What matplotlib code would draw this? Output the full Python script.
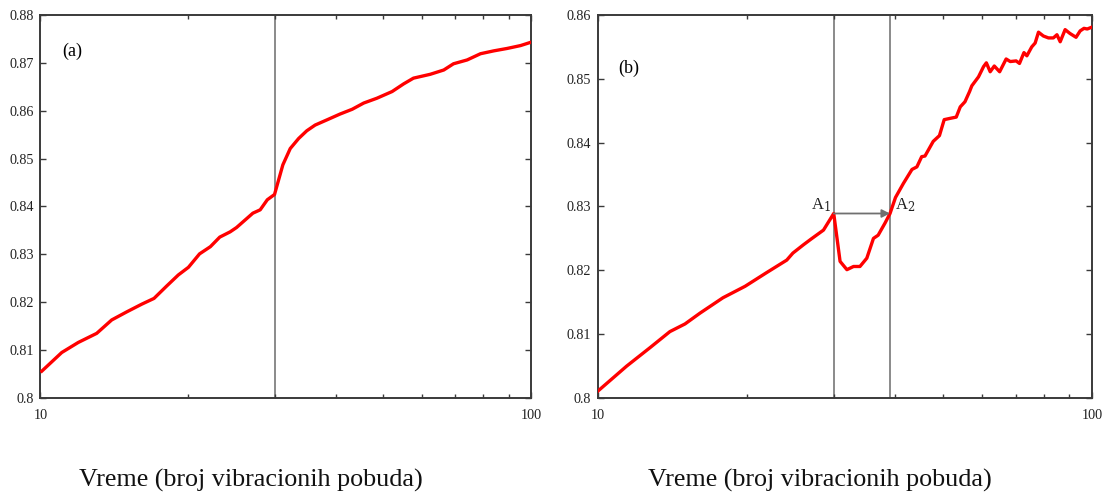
import numpy as np
import matplotlib
matplotlib.use("Agg")
import matplotlib.pyplot as plt
from matplotlib.ticker import LogLocator, FixedLocator, NullFormatter, FuncFormatter

plt.rcParams['font.family'] = ['Liberation Serif', 'DejaVu Serif']

# panel (a): single excitation sequence
time_a = [10.06, 11.05, 11.94, 13.02, 13.97, 15.0, 16.09, 17.04, 18.09, 19.1,
          20.03, 21.1, 22.2, 23.2, 24.36, 25.1, 26.35, 27.1, 28.05, 29.0, 30.0,
          31.2, 32.3, 33.6, 34.9, 36.3, 38.4, 40.8, 43.2, 45.6, 48.5, 52.1,
          55.0, 57.6, 62.3, 66.4, 69.5, 74.1, 78.9, 84.0, 89.4, 95.2, 100.0]
value_a = [0.8056, 0.8095, 0.8116, 0.8135, 0.8163, 0.8180, 0.8196, 0.8208,
           0.8234, 0.8257, 0.8273, 0.8301, 0.8316, 0.8336, 0.8347, 0.8356,
           0.8375, 0.8386, 0.8393, 0.8414, 0.8425, 0.8487, 0.8521, 0.8542,
           0.8558, 0.8570, 0.8581, 0.8593, 0.8603, 0.8616, 0.8626, 0.8640,
           0.8656, 0.8668, 0.8676, 0.8685, 0.8698, 0.8706, 0.8719, 0.8725,
           0.8730, 0.8736, 0.8743]

# panel (b): with the drop between A1 and A2
time_b = [10.0, 11.43, 12.75, 13.98, 15.0, 16.09, 17.9, 19.85, 21.9, 24.1,
          24.8, 26.05, 27.0, 28.6, 30.0, 30.9, 31.9, 32.9, 33.9, 35.0, 36.1,
          36.9, 38.1, 39.0, 40.0, 41.5, 43.2, 44.2, 45.2, 45.9, 47.7, 49.1,
          50.2, 51.6, 53.1, 54.1, 55.3, 56.5, 57.1, 58.9, 60.3, 61.1, 62.2,
          63.4, 65.0, 67.0, 68.3, 70.2, 71.3, 72.8, 73.8, 75.5, 76.7, 77.9,
          79.7, 81.6, 83.5, 84.9, 86.2, 88.2, 90.2, 92.8, 94.6, 96.3, 97.8, 100.0]
value_b = [0.8011, 0.8050, 0.8079, 0.8104, 0.8116, 0.8133, 0.8157, 0.8175,
           0.8196, 0.8216, 0.8227, 0.8240, 0.8249, 0.8263, 0.8289, 0.8214,
           0.8201, 0.8206, 0.8206, 0.8219, 0.8250, 0.8255, 0.8274, 0.8289,
           0.8314, 0.8336, 0.8358, 0.8362, 0.8378, 0.8379, 0.8402, 0.8411,
           0.8436, 0.8438, 0.8440, 0.8456, 0.8464, 0.8480, 0.8489, 0.8503,
           0.8519, 0.8525, 0.8511, 0.8520, 0.8511, 0.8531, 0.8527, 0.8528,
           0.8524, 0.8541, 0.8536, 0.8550, 0.8556, 0.8573, 0.8567, 0.8564,
           0.8564, 0.8569, 0.8558, 0.8577, 0.8571, 0.8565, 0.8575, 0.8579,
           0.8578, 0.8581]

lines_a = [30]
lines_b = [30, 39]
ylim_a = (0.80, 0.88)
ylim_b = (0.80, 0.86)
xlabel = "Vreme (broj vibracionih pobuda)"

spine_col = "#3a3a3a"
vline_col = "#8a8a8a"


def style_axis(ax, ylim):
    ax.set_xscale("log")
    ax.set_xlim(10, 100)
    ax.set_ylim(*ylim)
    ax.xaxis.set_major_locator(FixedLocator([10, 100]))
    ax.xaxis.set_minor_locator(LogLocator(base=10, subs=np.arange(2, 10)))
    ax.xaxis.set_minor_formatter(NullFormatter())
    ax.xaxis.set_major_formatter(FuncFormatter(lambda v, p: f"{v:g}"))
    ax.set_yticks(np.arange(ylim[0], ylim[1] + 1e-9, 0.01))
    ax.yaxis.set_major_formatter(FuncFormatter(lambda v, p: f"{round(v, 2):g}"))
    ax.tick_params(which="both", direction="in", top=True, right=True,
                   colors=spine_col, labelcolor="#222222", labelsize=10.2, width=1)
    ax.tick_params(which="major", length=4)
    ax.tick_params(which="minor", length=3)
    ax.tick_params(axis="x", pad=8)
    ax.tick_params(axis="y", pad=5)
    for s in ax.spines.values():
        s.set_color(spine_col)
        s.set_linewidth(1.4)


fig = plt.figure(figsize=(11.06, 4.93), dpi=100)
ax1 = fig.add_axes([0.0366, 0.1927, 0.4435, 0.777])
ax2 = fig.add_axes([0.5407, 0.1927, 0.4467, 0.777])

style_axis(ax1, ylim_a)
for xv in lines_a:
    ax1.axvline(xv, color=vline_col, lw=1.4, zorder=1)
ax1.plot(time_a, value_a, color="#ff0000", lw=2.4, zorder=3)
ax1.text(0.045, 0.905, "(a)", transform=ax1.transAxes, fontsize=13, va="center")

style_axis(ax2, ylim_b)
for xv in lines_b:
    ax2.axvline(xv, color=vline_col, lw=1.4, zorder=1)
ax2.plot(time_b, value_b, color="#ff0000", lw=2.4, zorder=3)
ax2.text(0.04, 0.86, "(b)", transform=ax2.transAxes, fontsize=13, va="center")

# arrow from A1 to A2
y_arrow = value_b[time_b.index(lines_b[0])]
ax2.annotate("", xy=(lines_b[1], y_arrow), xytext=(lines_b[0], y_arrow),
             arrowprops=dict(arrowstyle="-|>", color="#707070", lw=1.3,
                             mutation_scale=12, shrinkA=0, shrinkB=0), zorder=4)
ax2.text(lines_b[0] * 0.985, y_arrow - 0.0001, "A$_1$", ha="right", va="bottom",
         fontsize=12, color="#222222", math_fontfamily="dejavuserif")
ax2.text(lines_b[1] * 1.025, y_arrow - 0.0001, "A$_2$", ha="left", va="bottom",
         fontsize=12, color="#222222", math_fontfamily="dejavuserif")

fig.text(0.227, 0.026, xlabel, ha="center", va="center", fontsize=18.8, color="#111111")
fig.text(0.741, 0.026, xlabel, ha="center", va="center", fontsize=18.8, color="#111111")

fig.savefig("out.png", dpi=100)
